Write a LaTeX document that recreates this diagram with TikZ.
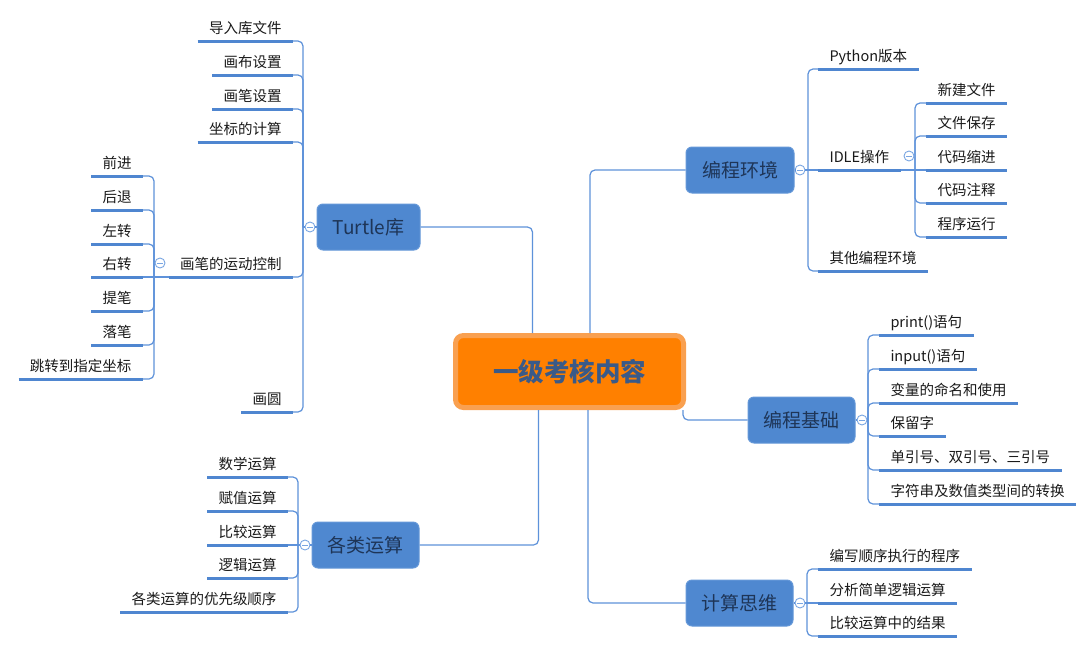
\documentclass[tikz,border=0pt]{standalone}
\usepackage{fontspec}
\setmainfont{Noto Sans CJK SC}
\definecolor{boxfill}{HTML}{4F88D0}
\definecolor{boxdraw}{HTML}{6598D8}
\definecolor{boxtext}{HTML}{1E3557}
\definecolor{conncol}{HTML}{5E92DA}
\definecolor{ulcol}{HTML}{4F86D0}
\definecolor{rootfill}{HTML}{FF8000}
\definecolor{rootdraw}{HTML}{F9A050}
\definecolor{roottext}{HTML}{3A5A88}
\definecolor{leaftext}{HTML}{1A1A1A}
\definecolor{circcol}{HTML}{7AA6E2}
\tikzset{
  conn/.style={draw=conncol, line width=1.2pt, rounded corners=5pt},
  uline/.style={draw=ulcol, line width=3pt},
  leaf/.style={font=\fontsize{14.5pt}{17pt}\selectfont, text=leaftext, inner xsep=11.5pt, inner ysep=0pt,
    minimum height=28pt, text height=13pt, text depth=1pt, outer sep=0pt,
    append after command={\pgfextra{\draw[uline] (\tikzlastnode.south west) -- (\tikzlastnode.south east);}}},
  lleaf/.style={leaf, anchor=south east},
  rleaf/.style={leaf, anchor=south west},
  branch/.style={fill=boxfill, draw=boxdraw, line width=1pt, rounded corners=6pt, text=boxtext,
    font=\fontsize{19pt}{22pt}\selectfont, minimum width=105pt, minimum height=46pt, inner sep=0pt},
  rootbox/.style={fill=rootfill, draw=rootdraw, line width=5pt, rounded corners=8pt, text=roottext,
    font=\fontsize{25.5pt}{30pt}\selectfont\bfseries, minimum width=228pt, minimum height=72pt, inner sep=0pt},
  fold/.style={circle, draw=circcol, fill=white, line width=0.9pt, minimum size=10pt, inner sep=0pt,
    path picture={\draw[circcol, line width=0.8pt] ([xshift=-2.6pt]path picture bounding box.center) -- ([xshift=2.6pt]path picture bounding box.center);}}
}
\begin{document}
\begin{tikzpicture}[x=1pt, y=-1pt]
\useasboundingbox (0,0) rectangle (1080,649);
\fill[white] (0,0) rectangle (1080,649);

% trunk points
\coordinate (tt) at (303,227);
\coordinate (pt) at (154,277);
\coordinate (et) at (808,170);
\coordinate (it) at (915,170);
\coordinate (bt) at (868,420);
\coordinate (ot) at (298,545);
\coordinate (kt) at (807,603);

% root and branches
\node[rootbox] (root) at (569.5,371.5) {一级考核内容};
\node[branch, minimum width=103pt] (tur) at (368.5,227) {Turtle库};
\node[branch, minimum width=108pt] (env) at (740,170) {编程环境};
\node[branch, minimum width=107pt] (base) at (801.5,420) {编程基础};
\node[branch, minimum width=107pt] (ops) at (365.5,545) {各类运算};
\node[branch, minimum width=107pt] (think) at (739.5,603) {计算思维};

\draw[conn] ([xshift=-37pt]root.north) |- (tur.east);
\draw[conn] ([xshift=20.5pt]root.north) |- (env.west);
\draw[conn] ([xshift=-31pt]root.south) |- (ops.east);
\draw[conn] ([xshift=18.5pt]root.south) |- (think.west);
\draw[conn] ([xshift=-3pt]root.south east) |- (base.west);

% Turtle
\node[lleaf] (t1) at (293,41) {导入库文件};
\node[lleaf] (t2) at (293,75) {画布设置};
\node[lleaf] (t3) at (293,109) {画笔设置};
\node[lleaf] (t4) at (293,142) {坐标的计算};
\node[lleaf] (pm) at (293,277) {画笔的运动控制};
\node[lleaf] (t6) at (293,412) {画圆};
\foreach \n in {t1,t2,t3,t4,pm,t6} \draw[conn] (tt) |- (\n.south east);

% pen movement
\node[lleaf] (p1) at (143,176) {前进};
\node[lleaf] (p2) at (143,210) {后退};
\node[lleaf] (p3) at (143,244) {左转};
\node[lleaf] (p4) at (143,277) {右转};
\node[lleaf] (p5) at (143,311) {提笔};
\node[lleaf] (p6) at (143,345) {落笔};
\node[lleaf] (p7) at (143,379) {跳转到指定坐标};
\draw[conn] (pm.south west) -- (pt);
\foreach \n in {p1,p2,p3,p5,p6,p7} \draw[conn] (pt) |- (\n.south east);
\draw[conn] (pt) -- (p4.south east);

% environment
\node[rleaf] (e1) at (818,69) {Python版本};
\node[rleaf] (idle) at (818,170) {IDLE操作};
\node[rleaf] (e3) at (818,271) {其他编程环境};
\draw[conn] (et) |- (e1.south west);
\draw[conn] (et) |- (e3.south west);
\draw[conn] (et) -- (idle.south west);
\node[rleaf] (i1) at (926,103) {新建文件};
\node[rleaf] (i2) at (926,136) {文件保存};
\node[rleaf] (i3) at (926,170) {代码缩进};
\node[rleaf] (i4) at (926,203) {代码注释};
\node[rleaf] (i5) at (926,237) {程序运行};
\draw[conn] (idle.south east) -- (it);
\foreach \n in {i1,i2,i4,i5} \draw[conn] (it) |- (\n.south west);
\draw[conn] (it) -- (i3.south west);

% basics
\node[rleaf] (b1) at (879,335) {print()语句};
\node[rleaf] (b2) at (879,369) {input()语句};
\node[rleaf] (b3) at (879,403) {变量的命名和使用};
\node[rleaf] (b4) at (879,436) {保留字};
\node[rleaf] (b5) at (879,470) {单引号、双引号、三引号};
\node[rleaf] (b6) at (879,504) {字符串及数值类型间的转换};
\foreach \n in {b1,b2,b3,b4,b5,b6} \draw[conn] (bt) |- (\n.south west);

% operations
\node[lleaf] (o1) at (288,477) {数学运算};
\node[lleaf] (o2) at (288,511) {赋值运算};
\node[lleaf] (o3) at (288,545) {比较运算};
\node[lleaf] (o4) at (288,578) {逻辑运算};
\node[lleaf] (o5) at (288,612) {各类运算的优先级顺序};
\foreach \n in {o1,o2,o4,o5} \draw[conn] (ot) |- (\n.south east);
\draw[conn] (ot) -- (o3.south east);

% thinking
\node[rleaf] (k1) at (818,569) {编写顺序执行的程序};
\node[rleaf] (k2) at (818,603) {分析简单逻辑运算};
\node[rleaf] (k3) at (818,636) {比较运算中的结果};
\draw[conn] (kt) |- (k1.south west);
\draw[conn] (kt) |- (k3.south west);
\draw[conn] (kt) -- (k2.south west);

% fold circles
\node[fold] (ct) at (310,227) {};
\node[fold] (ce) at (800,170) {};
\node[fold] (cb) at (862,420) {};
\node[fold] (co) at (305,545) {};
\node[fold] (ck) at (800,603) {};
\node[fold] (cpm) at (160,263) {};
\node[fold] (ci) at (909,156) {};
\draw[conn] (tur.west) -- (ct.east);
\draw[conn] (ct.west) -- (tt);
\draw[conn] (env.east) -- (ce.west);
\draw[conn] (ce.east) -- (et);
\draw[conn] (base.east) -- (cb.west);
\draw[conn] (cb.east) -- (bt);
\draw[conn] (ops.west) -- (co.east);
\draw[conn] (co.west) -- (ot);
\draw[conn] (think.east) -- (ck.west);
\draw[conn] (ck.east) -- (kt);
\end{tikzpicture}
\end{document}
